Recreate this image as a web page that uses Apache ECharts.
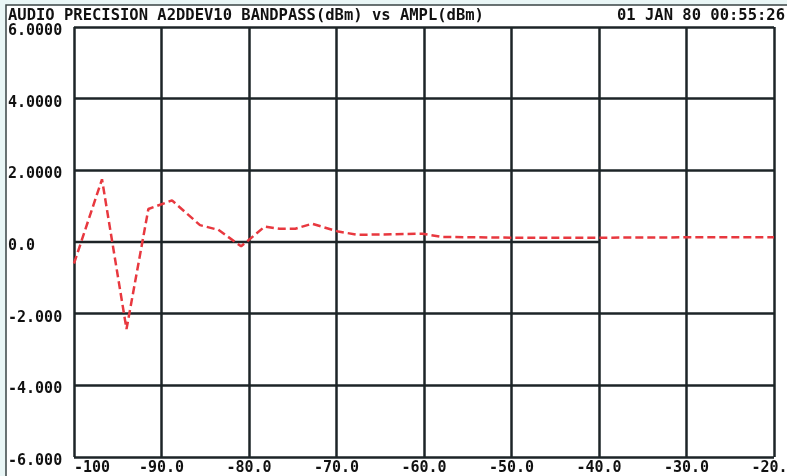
<!DOCTYPE html>
<html>
<head>
<meta charset="utf-8">
<script src="https://cdn.jsdelivr.net/npm/echarts@6/dist/echarts.min.js"></script>
<style>
html,body{margin:0;padding:0;background:#e9f6f6;}
#c{width:787px;height:476px;}
</style>
</head>
<body>
<div id="c"></div>
<script>
// Data
const ampl = [-100, -96.8, -94.0, -91.5, -88.8, -85.6, -83.5, -80.9, -78.2, -76.5, -74.7, -72.8, -69.8, -67.5, -60.2, -57.9, -50, -40, -30, -20];
const bandpass = [-0.6, 1.75, -2.43, 0.92, 1.16, 0.47, 0.34, -0.12, 0.43, 0.37, 0.37, 0.51, 0.29, 0.2, 0.23, 0.14, 0.12, 0.12, 0.13, 0.13];
const zeroLineX = [-100, -40];
const zeroLineY = [0, 0];
const yTickValues = [-6, -4, -2, 0, 2, 4, 6];
const yTickLabels = ['-6.000', '-4.000', '-2.000', '0.0', '2.0000', '4.0000', '6.0000'];
const xTickValues = [-100, -90, -80, -70, -60, -50, -40, -30, -20];
const xTickLabels = ['-100', '-90.0', '-80.0', '-70.0', '-60.0', '-50.0', '-40.0', '-30.0', '-20.0'];
const titleLeft = 'AUDIO PRECISION A2DDEV10 BANDPASS(dBm) vs AMPL(dBm)';
const titleRight = '01 JAN 80 00:55:26';

const gridColor = '#1d2427';
const mono = '"DejaVu Sans Mono", "Liberation Mono", monospace';

const chart = echarts.init(document.getElementById('c'), null, {renderer: 'canvas'});
const lineData = ampl.map((x, i) => [x, bandpass[i]]);
const zeroData = zeroLineX.map((x, i) => [x, zeroLineY[i]]);
const ySplitColors = yTickValues.map(v => v === 0 ? 'rgba(0,0,0,0)' : gridColor);

chart.setOption({
  backgroundColor: '#e9f6f6',
  animation: false,
  graphic: [
    {type: 'rect', shape: {x: 6, y: 5, width: 800, height: 490}, z: -10,
     style: {fill: '#ffffff', stroke: '#3a4446', lineWidth: 1.5}},
    {type: 'text', left: 8, top: 8, z: 10,
     style: {text: titleLeft, font: 'bold 15.5px ' + mono, fill: '#111'}},
    {type: 'text', right: 2, top: 8, z: 10,
     style: {text: titleRight, font: 'bold 15.5px ' + mono, fill: '#111'}}
  ],
  grid: {left: 74, right: 13, top: 27, bottom: 19, containLabel: false, outerBoundsMode: 'none'},
  xAxis: {
    type: 'value', min: -100, max: -20, interval: 10,
    axisLine: {show: false}, axisTick: {show: false},
    splitLine: {show: true, lineStyle: {color: gridColor, width: 2.5}},
    axisLabel: {
      margin: 4, alignMinLabel: 'left', color: '#111',
      fontFamily: mono, fontWeight: 'bold', fontSize: 15,
      formatter: v => { const i = xTickValues.indexOf(v); return i >= 0 ? xTickLabels[i] : ''; }
    }
  },
  yAxis: {
    type: 'value', min: -6, max: 6, interval: 2,
    axisLine: {show: false}, axisTick: {show: false},
    splitLine: {show: true, lineStyle: {color: ySplitColors, width: 2.5}},
    axisLabel: {
      margin: 66, align: 'left', verticalAlign: 'top', lineHeight: 8, color: '#111',
      fontFamily: mono, fontWeight: 'bold', fontSize: 15,
      formatter: v => { const i = yTickValues.indexOf(v); return i >= 0 ? yTickLabels[i] : ''; }
    }
  },
  series: [
    {type: 'line', data: zeroData, symbol: 'none', silent: true, z: 1,
     lineStyle: {color: gridColor, width: 2.5}},
    {type: 'line', data: lineData, symbol: 'none', z: 5,
     lineStyle: {color: '#e8383f', width: 2.5, type: [8, 4]}}
  ]
});
</script>
</body>
</html>
